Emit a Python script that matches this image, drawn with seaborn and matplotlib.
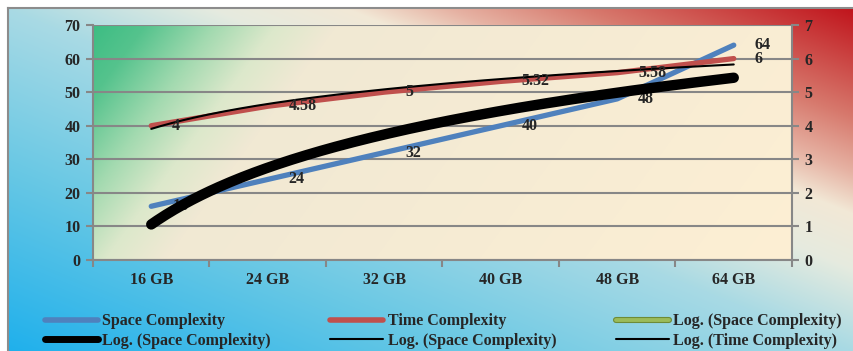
import numpy as np
import pandas as pd
import matplotlib
matplotlib.use("Agg")
import matplotlib.pyplot as plt
import matplotlib.patheffects as pe
from matplotlib.lines import Line2D
import seaborn as sns
from matplotlib.colors import to_rgb

# ---- data -------------------------------------------------------------
categories = ["16 GB", "24 GB", "32 GB", "40 GB", "48 GB", "64 GB"]
space_complexity = [16, 24, 32, 40, 48, 64]
time_complexity = [4, 4.58, 5, 5.32, 5.58, 6]
left_ticks = [0, 10, 20, 30, 40, 50, 60, 70]
right_ticks = [0, 1, 2, 3, 4, 5, 6, 7]

# ---- style ------------------------------------------------------------
sns.set_style("white")
plt.rcParams["font.family"] = ["Liberation Serif", "DejaVu Serif"]
plt.rcParams["font.weight"] = "bold"
plt.rcParams["font.size"] = 11.5

BLUE = "#4F81BD"
RED = "#C0504D"
GREEN = "#9BBB59"
GRID = "#878787"

W, H = 854, 351
fig = plt.figure(figsize=(W / 100, H / 100), dpi=100)
fig.patch.set_facecolor("white")


def ramp(t, stops):
    pos = np.array([s[0] for s in stops])
    cols = np.array([to_rgb(s[1]) for s in stops])
    out = np.empty(t.shape + (3,))
    for c in range(3):
        out[..., c] = np.interp(t, pos, cols[:, c])
    return out


# ---- chart-area background (diagonal blue -> cream -> red) -------------
bg = fig.add_axes([8 / W, 0, 1 - 8 / W, 1 - 8 / H], zorder=-5)
bw, bh = 846, 343
xx, yy = np.meshgrid(np.arange(bw), np.arange(bh))
t_bg = (xx / bw + (1 - yy / bh)) / 2
bg_stops = [(0.0, "#1FB0EC"), (0.28, "#6CC9E4"), (0.5, "#A9DAE4"),
            (0.62, "#E6EBDF"), (0.70, "#F2E8D6"), (0.76, "#E6B2A3"),
            (0.84, "#D7796D"), (1.0, "#C0131B")]
bg.imshow(ramp(t_bg, bg_stops), aspect="auto", origin="upper",
          extent=[0, 1, 0, 1], interpolation="bilinear")
bg.set_xlim(0, 1)
bg.set_ylim(0, 1)
bg.set_xticks([])
bg.set_yticks([])
for side, sp in bg.spines.items():
    sp.set_visible(side in ("left", "top"))
    sp.set_color("#8C8C8C")
    sp.set_linewidth(1.5)

# ---- plot area ----------------------------------------------------------
left, right, top, bottom = 93, 792, 25, 260
ax = fig.add_axes([left / W, 1 - bottom / H, (right - left) / W, (bottom - top) / H])
ax.set_facecolor("none")
pw, ph = right - left, bottom - top
px, py = np.meshgrid(np.arange(pw), np.arange(ph))
t_pa = (150 * px + 110 * py) / (150 * pw + 110 * ph)
pa_stops = [(0.0, "#3CBD83"), (0.06, "#55C38D"), (0.14, "#A3DAB0"),
            (0.21, "#DCE8CB"), (0.28, "#F1E9D4"), (1.0, "#FDEFD3")]
ax.imshow(ramp(t_pa, pa_stops), aspect="auto", origin="upper",
          extent=[0, 1, 0, 1], transform=ax.transAxes, zorder=-10,
          interpolation="bilinear")

pos = np.arange(1, len(categories) + 1)
df = pd.DataFrame({"pos": pos, "space": space_complexity, "time": time_complexity})

# logarithmic trendlines fitted on category index
xs = np.linspace(1, len(categories), 200)
a_s, b_s = np.polyfit(np.log(pos), df["space"], 1)
a_t, b_t = np.polyfit(np.log(pos), df["time"], 1)
space_trend = a_s * np.log(xs) + b_s
time_trend = a_t * np.log(xs) + b_t

green_fx = [pe.Stroke(linewidth=4.4, foreground="#6E8B36"), pe.Normal()]

sns.lineplot(data=df, x="pos", y="space", ax=ax, color=BLUE, lw=3.8,
             solid_capstyle="round", zorder=3, legend=False)
sns.lineplot(x=xs, y=space_trend, ax=ax, color=GREEN, lw=3.2, zorder=3.5,
             path_effects=green_fx, legend=False)
sns.lineplot(x=xs, y=space_trend, ax=ax, color="black", lw=7.5,
             solid_capstyle="round", zorder=4, legend=False)
sns.lineplot(x=xs, y=space_trend, ax=ax, color="black", lw=1.5,
             zorder=4.5, legend=False)

for p, v in zip(pos, space_complexity):
    ax.annotate(f"{v:g}", (p, v), xytext=(21, 0), textcoords="offset pixels",
                ha="left", va="center", fontweight="bold", zorder=3.8)

ax.set_xlim(0.5, len(categories) + 0.5)
ax.set_ylim(0, 70)
ax.set_yticks(left_ticks)
ax.set_xticks(np.arange(0.5, len(categories) + 1, 1))
ax.set_xticklabels([])
ax.set_xticks(pos, minor=True)
ax.set_xticklabels(categories, minor=True, fontweight="bold")
ax.tick_params(axis="x", which="major", length=5, width=1.5, color=GRID,
               direction="out", bottom=True)
ax.tick_params(axis="x", which="minor", length=0, pad=8.5)
ax.tick_params(axis="y", length=5, width=1.5, color=GRID, direction="out",
               left=True, pad=4)
ax.yaxis.grid(True, color=GRID, lw=1.5)
ax.xaxis.grid(False)
ax.set_axisbelow(True)
ax.set_xlabel("")
ax.set_ylabel("")
for side, sp in ax.spines.items():
    sp.set_visible(side in ("left", "bottom"))
    sp.set_color(GRID)
    sp.set_linewidth(1.5)

# ---- secondary axis: time complexity ------------------------------------
ax2 = ax.twinx()
sns.lineplot(data=df, x="pos", y="time", ax=ax2, color=RED, lw=3.8,
             solid_capstyle="round", zorder=3, legend=False)
sns.lineplot(x=xs, y=time_trend, ax=ax2, color="black", lw=1.5,
             zorder=4, legend=False)
for p, v in zip(pos, time_complexity):
    ax2.annotate(f"{v:g}", (p, v), xytext=(21, 0), textcoords="offset pixels",
                 ha="left", va="center", fontweight="bold", zorder=5)
ax2.set_ylim(0, 7)
ax2.set_yticks(right_ticks)
ax2.tick_params(axis="y", length=5, width=1.5, color=GRID, direction="out",
                right=True, pad=4)
ax2.set_ylabel("")
ax2.grid(False)
for side, sp in ax2.spines.items():
    sp.set_visible(side == "right")
    sp.set_color(GRID)
    sp.set_linewidth(1.5)

# ---- legend (column-major order for three columns) ----------------------
handles = [
    Line2D([], [], color=BLUE, lw=4, solid_capstyle="round"),
    Line2D([], [], color="black", lw=5, solid_capstyle="round"),
    Line2D([], [], color=RED, lw=4, solid_capstyle="round"),
    Line2D([], [], color="black", lw=1.5),
    Line2D([], [], color=GREEN, lw=2.8, path_effects=green_fx),
    Line2D([], [], color="black", lw=1.5),
]
labels = ["Space Complexity", "Log. (Space Complexity)",
          "Time Complexity", "Log. (Space Complexity)",
          "Log. (Space Complexity)", "Log. (Time Complexity)"]
fig.legend(handles, labels, ncol=3, mode="expand", loc="upper left",
           bbox_to_anchor=(45 / W, 1 - 317 / H, (842 - 45) / W, 0.01),
           frameon=False, borderpad=0, borderaxespad=0, handlelength=3.3,
           handletextpad=0.3, labelspacing=0.2,
           prop={"weight": "bold", "size": 11.5})

fig.savefig("out.png", dpi=100)
